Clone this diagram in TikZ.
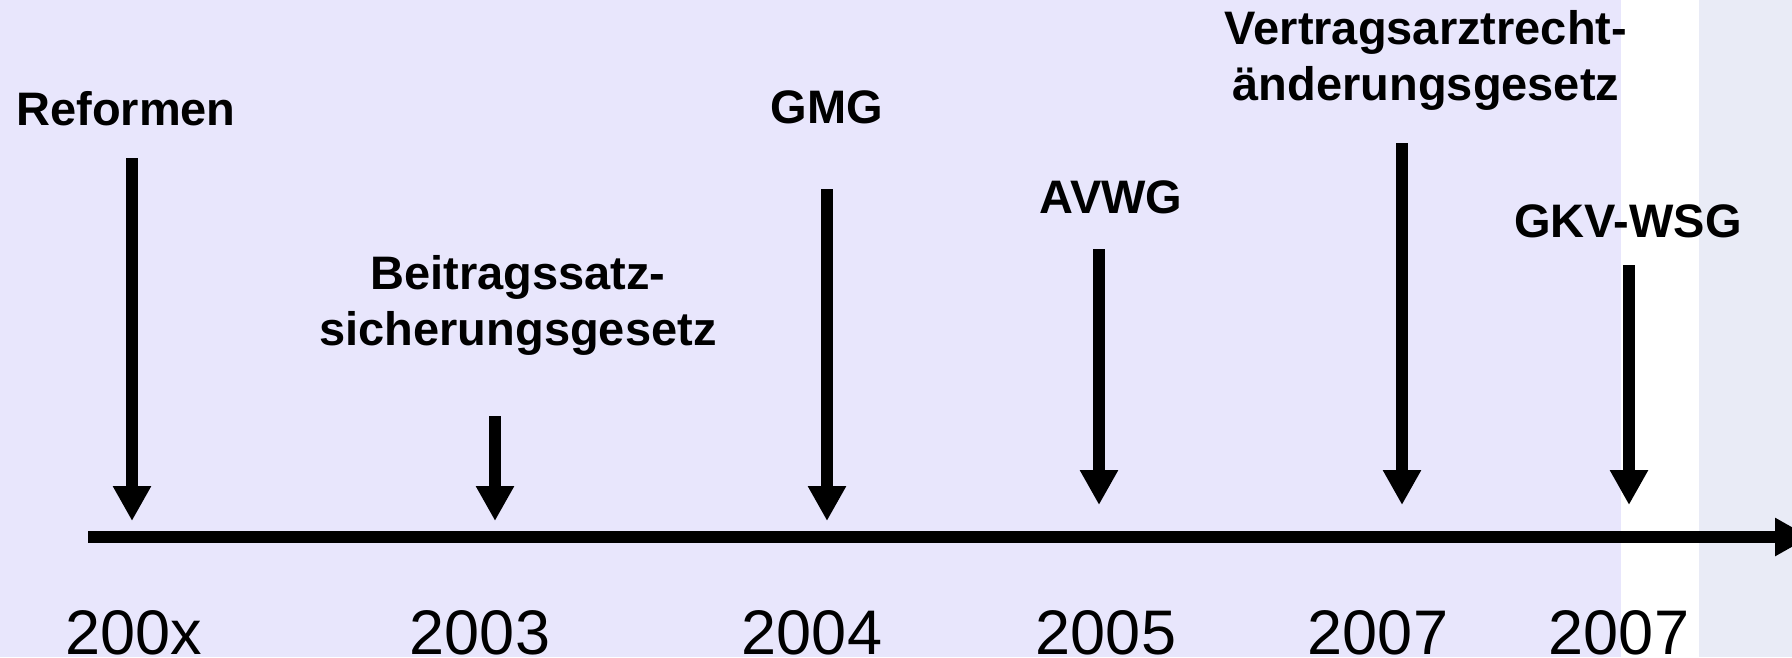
\documentclass[tikz,border=0pt]{standalone}
\usepackage{fontspec}
\setmainfont{Liberation Sans}
\usetikzlibrary{arrows.meta}
\definecolor{lavbg}{RGB}{232,230,252}
\definecolor{greybg}{RGB}{233,235,246}
\tikzset{
  law/.style={font=\fontsize{47}{56}\selectfont\bfseries, align=center, anchor=base, inner sep=0pt},
  yearlabel/.style={font=\fontsize{63}{70}\selectfont, anchor=base, inner sep=0pt},
  evarrow/.style={line width=12pt, -{Triangle[width=36pt,length=35pt]}},
}
\begin{document}
\begin{tikzpicture}[x=1pt, y=-1pt]
    % Background bands
    \useasboundingbox (0,0) rectangle (1792,657);
    \clip (0,0) rectangle (1792,657);
    \fill[lavbg] (0,0) rectangle (1621,657);
    \fill[white] (1621,0) rectangle (1699,657);
    \fill[greybg] (1699,0) rectangle (1792,657);

    % Time axis
    \coordinate (axisL) at (88,537);
    \coordinate (axisR) at (1810,537);
    \draw[evarrow] (axisL) -- (axisR);

    % Reforms: label x/baseline (last line), arrow x/top/tip
    \foreach \n/\lx/\ly/\ax/\yt/\yb/\txt in {
        1/126/125/132/158/521/Reformen,
        2/518/345/495/416/521/Beitragssatz-\\sicherungsgesetz,
        3/827/123/827/189/521/GMG,
        4/1111/213/1099/249/505/AVWG,
        5/1426/100/1402/143/505/Vertragsarztrecht-\\änderungsgesetz,
        6/1628/237/1629/265/505/GKV-WSG} {
        \node[law] (lab\n) at (\lx,\ly) {\txt};
        \coordinate (top\n) at (\ax,\yt);
        \coordinate (tip\n) at (\ax,\yb);
        \draw[evarrow] (top\n) -- (tip\n);
    }

    % Years
    \foreach \n/\x/\yr in {1/134/200x, 2/480/2003, 3/812/2004, 4/1106/2005, 5/1378/2007, 6/1619/2007}
        \node[yearlabel] (yr\n) at (\x,654) {\yr};
\end{tikzpicture}
\end{document}
